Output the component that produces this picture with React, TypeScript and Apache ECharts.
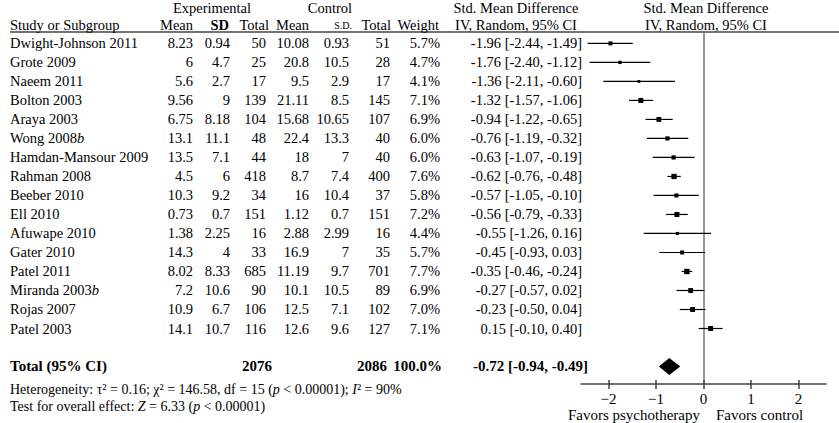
import React, { useEffect, useRef } from 'react';
import * as echarts from 'echarts';

// ---------- DATA ----------
const studies = [
  'Dwight-Johnson 2011', 'Grote 2009', 'Naeem 2011', 'Bolton 2003', 'Araya 2003',
  'Wong 2008', 'Hamdan-Mansour 2009', 'Rahman 2008', 'Beeber 2010', 'Ell 2010',
  'Afuwape 2010', 'Gater 2010', 'Patel 2011', 'Miranda 2003', 'Rojas 2007', 'Patel 2003',
];
const studySuffix = ['', '', '', '', '', 'b', '', '', '', '', '', '', '', 'b', '', ''];
const expMean = [8.23, 6, 5.6, 9.56, 6.75, 13.1, 13.5, 4.5, 10.3, 0.73, 1.38, 14.3, 8.02, 7.2, 10.9, 14.1];
const expSD = [0.94, 4.7, 2.7, 9, 8.18, 11.1, 7.1, 6, 9.2, 0.7, 2.25, 4, 8.33, 10.6, 6.7, 10.7];
const expN = [50, 25, 17, 139, 104, 48, 44, 418, 34, 151, 16, 33, 685, 90, 106, 116];
const ctlMean = [10.08, 20.8, 9.5, 21.11, 15.68, 22.4, 18, 8.7, 16, 1.12, 2.88, 16.9, 11.19, 10.1, 12.5, 12.6];
const ctlSD = [0.93, 10.5, 2.9, 8.5, 10.65, 13.3, 7, 7.4, 10.4, 0.7, 2.99, 7, 9.7, 10.5, 7.1, 9.6];
const ctlN = [51, 28, 17, 145, 107, 40, 40, 400, 37, 151, 16, 35, 701, 89, 102, 127];
const weights = [5.7, 4.7, 4.1, 7.1, 6.9, 6.0, 6.0, 7.6, 5.8, 7.2, 4.4, 5.7, 7.7, 6.9, 7.0, 7.1];
const smd = [-1.96, -1.76, -1.36, -1.32, -0.94, -0.76, -0.63, -0.62, -0.57, -0.56, -0.55, -0.45, -0.35, -0.27, -0.23, 0.15];
const ciLow = [-2.44, -2.40, -2.11, -1.57, -1.22, -1.19, -1.07, -0.76, -1.05, -0.79, -1.26, -0.93, -0.46, -0.57, -0.50, -0.10];
const ciHigh = [-1.49, -1.12, -0.60, -1.06, -0.65, -0.32, -0.19, -0.48, -0.10, -0.33, 0.16, 0.03, -0.24, 0.02, 0.04, 0.40];

const totalExpN = 2076;
const totalCtlN = 2086;
const totalWeight = 100.0;
const totalSmd = -0.72;
const totalLow = -0.94;
const totalHigh = -0.49;
const totalRow = 17;

const xTicks = [-2, -1, 0, 1, 2];

// ---------- STYLE ----------
const FF = '"Liberation Serif", serif';
const FS = 14.5;
const FS_NOTE = 14;
const FS_BOLD = 15;
const TXT = '#000';

const fmtCI = (e: number, l: number, h: number) =>
  `${e.toFixed(2)} [${l.toFixed(2)}, ${h.toFixed(2)}]`;

function t(x: number, y: number, text: string, align: string, extra: any = {}) {
  return {
    type: 'text',
    x,
    y,
    silent: true,
    style: {
      text,
      align,
      verticalAlign: 'middle',
      fontFamily: FF,
      fontSize: FS,
      fill: TXT,
      ...extra,
    },
  };
}

export default function App() {
  const ref = useRef<HTMLDivElement>(null);

  useEffect(() => {
    if (!ref.current) return;
    const chart = echarts.init(ref.current, undefined, { renderer: 'svg' });

    const rich = (size: number) => ({
      n: { fontFamily: FF, fontSize: size, fill: TXT },
      i: { fontFamily: FF, fontSize: size, fontStyle: 'italic', fill: TXT },
    });

    const option: any = {
      animation: false,
      grid: { left: 581, right: 13, top: 32, bottom: 39, containLabel: false },
      xAxis: [
        {
          type: 'value',
          min: -2.58,
          max: 2.58,
          position: 'bottom',
          axisLine: { show: true, onZero: false, lineStyle: { color: '#444', width: 1.5 } },
          axisTick: { show: true, customValues: xTicks, length: 5, lineStyle: { color: '#444', width: 1.5 } },
          axisLabel: {
            customValues: xTicks,
            margin: 7,
            fontFamily: FF,
            fontSize: 15,
            color: TXT,
            formatter: (v: number) => (v < 0 ? '\u2212' + Math.abs(v) : String(v)),
          },
          splitLine: { show: false },
        },
        {
          type: 'value',
          min: -2.58,
          max: 2.58,
          position: 'bottom',
          axisLine: { show: false, onZero: false },
          axisTick: { show: true, inside: true, customValues: xTicks, length: 4, lineStyle: { color: '#444', width: 1.5 } },
          axisLabel: { show: false },
          splitLine: { show: false },
        },
      ],
      yAxis: {
        type: 'value',
        inverse: true,
        min: -0.6,
        max: 17.92,
        axisLine: { show: true, onZero: true, lineStyle: { color: '#777', width: 1.5 } },
        axisTick: { show: false },
        axisLabel: { show: false },
        splitLine: { show: false },
      },
      graphic: [
        { type: 'line', silent: true, shape: { x1: 10, y1: 32, x2: 839, y2: 32 }, style: { stroke: '#444', lineWidth: 1.5 } },
        // header row 1
        t(212, 8, 'Experimental', 'center'),
        t(330, 8, 'Control', 'center'),
        t(516, 8, 'Std. Mean Difference', 'center'),
        t(706, 8, 'Std. Mean Difference', 'center'),
        // header row 2
        t(10, 25, 'Study or Subgroup', 'left'),
        t(193, 25, 'Mean', 'right'),
        t(229, 25, 'SD', 'right', { fontWeight: 'bold' }),
        t(269, 25, 'Total', 'right'),
        t(309, 25, 'Mean', 'right'),
        t(352, 25, 'S.D.', 'right', { fontSize: 10 }),
        t(391, 25, 'Total', 'right'),
        t(439, 25, 'Weight', 'right'),
        t(516, 25, 'IV, Random, 95% CI', 'center'),
        t(706, 25, 'IV, Random, 95% CI', 'center'),
        // footnotes
        {
          type: 'text', x: 10, y: 389, silent: true,
          style: {
            text: 'Heterogeneity: \u03c4\u00b2 = 0.16; \u03c7\u00b2 = 146.58, df = 15 ({i|p} < 0.00001); {i|I}\u00b2 = 90%',
            align: 'left', verticalAlign: 'middle', fontFamily: FF, fontSize: FS_NOTE, fill: TXT, rich: rich(FS_NOTE),
          },
        },
        {
          type: 'text', x: 10, y: 406, silent: true,
          style: {
            text: 'Test for overall effect: {i|Z} = 6.33 ({i|p} < 0.00001)',
            align: 'left', verticalAlign: 'middle', fontFamily: FF, fontSize: FS_NOTE, fill: TXT, rich: rich(FS_NOTE),
          },
        },
        t(700, 415, 'Favors psychotherapy', 'right', { fontSize: 15 }),
        t(716, 415, 'Favors control', 'left', { fontSize: 15 }),
      ],
      series: [
        // table rows
        {
          type: 'custom',
          silent: true,
          clip: false,
          data: studies.map((_, i) => [0, i]),
          encode: { x: 0, y: 1 },
          renderItem: (params: any, api: any) => {
            const i = params.dataIndex;
            const y = api.coord([0, api.value(1)])[1];
            const name = studySuffix[i] ? `{n|${studies[i]}}{i|${studySuffix[i]}}` : studies[i];
            return {
              type: 'group',
              children: [
                {
                  type: 'text', x: 10, y,
                  style: { text: name, align: 'left', verticalAlign: 'middle', fontFamily: FF, fontSize: FS, fill: TXT, rich: rich(FS) },
                },
                t(193, y, String(expMean[i]), 'right'),
                t(230, y, String(expSD[i]), 'right'),
                t(266, y, String(expN[i]), 'right'),
                t(309, y, String(ctlMean[i]), 'right'),
                t(349, y, String(ctlSD[i]), 'right'),
                t(390, y, String(ctlN[i]), 'right'),
                t(440, y, weights[i].toFixed(1) + '%', 'right'),
                t(582, y, fmtCI(smd[i], ciLow[i], ciHigh[i]), 'right'),
              ],
            };
          },
        },
        // total row text
        {
          type: 'custom',
          silent: true,
          clip: false,
          data: [[0, totalRow]],
          encode: { x: 0, y: 1 },
          renderItem: (params: any, api: any) => {
            const y = api.coord([0, api.value(1)])[1] - 1;
            const b = { fontWeight: 'bold', fontSize: FS_BOLD };
            return {
              type: 'group',
              children: [
                t(10, y, 'Total (95% CI)', 'left', b),
                t(272, y, String(totalExpN), 'right', b),
                t(387, y, String(totalCtlN), 'right', b),
                t(442, y, totalWeight.toFixed(1) + '%', 'right', b),
                t(588, y, fmtCI(totalSmd, totalLow, totalHigh), 'right', b),
              ],
            };
          },
        },
        // CI lines + squares
        {
          type: 'custom',
          silent: true,
          data: smd.map((v, i) => [v, ciLow[i], ciHigh[i], i, weights[i]]),
          encode: { x: [0, 1, 2], y: 3 },
          renderItem: (params: any, api: any) => {
            const r = api.value(3);
            const pE = api.coord([api.value(0), r]);
            const pL = api.coord([api.value(1), r]);
            const pH = api.coord([api.value(2), r]);
            const s = api.value(4) * 0.7;
            return {
              type: 'group',
              children: [
                { type: 'line', shape: { x1: pL[0], y1: pL[1], x2: pH[0], y2: pH[1] }, style: { stroke: '#000', lineWidth: 1.2 } },
                { type: 'rect', shape: { x: pE[0] - s / 2, y: pE[1] - s / 2, width: s, height: s }, style: { fill: '#000' } },
              ],
            };
          },
        },
        // total diamond
        {
          type: 'custom',
          silent: true,
          data: [[totalSmd, totalLow, totalHigh, totalRow]],
          encode: { x: [0, 1, 2], y: 3 },
          renderItem: (params: any, api: any) => {
            const r = api.value(3);
            const pE = api.coord([api.value(0), r]);
            const pL = api.coord([api.value(1), r]);
            const pH = api.coord([api.value(2), r]);
            const h = 8.5;
            return {
              type: 'polygon',
              shape: { points: [[pL[0], pE[1]], [pE[0], pE[1] - h], [pH[0], pE[1]], [pE[0], pE[1] + h]] },
              style: { fill: '#000' },
            };
          },
        },
      ],
    };

    chart.setOption(option);
    return () => chart.dispose();
  }, []);

  return <div ref={ref} style={{ width: 839, height: 423, position: 'absolute', left: 0, top: 0, background: '#fff' }} />;
}
